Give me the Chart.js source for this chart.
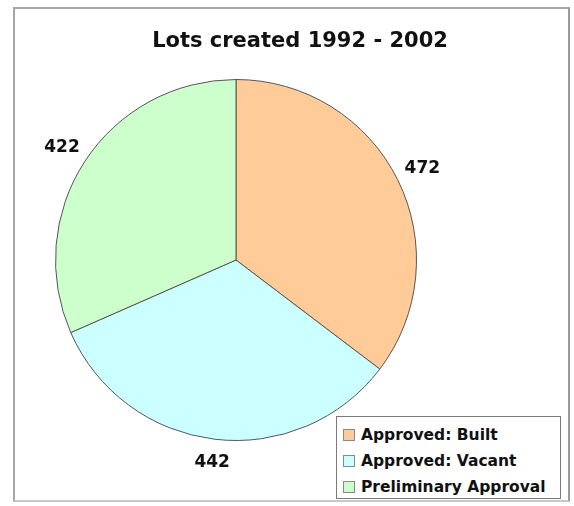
<!DOCTYPE html>
<html>
<head>
<meta charset="utf-8">
<script src="https://cdn.jsdelivr.net/npm/chart.js@4"></script>
<style>
  html, body { margin: 0; padding: 0; background: #fff; }
  #wrap { position: relative; width: 574px; height: 506px; overflow: hidden; }
  #frame {
    position: absolute; left: 13px; top: 7px; width: 553px; height: 491px;
    border: 2px solid #a6a6a6; border-right-color: #9a9a9a; border-bottom-color: #c8c8c8;
  }
  #chart { position: absolute; left: 0; top: 0; }
  #title {
    position: absolute; left: 100px; width: 400px; top: 28px; text-align: center;
    font: bold 21px "DejaVu Sans", sans-serif; color: #111;
  }
  #legend {
    position: absolute; left: 336px; top: 416px; width: 225px; height: 83px;
    box-sizing: border-box; border: 1px solid #7a7a7a; background: #fff;
    font: bold 15.5px "DejaVu Sans", sans-serif; color: #111;
    padding-top: 5px;
  }
  #legend .item { height: 26px; line-height: 26px; white-space: nowrap; }
  #legend .sw {
    display: inline-block; width: 10px; height: 10px; margin: 0 6px 0 6px;
    border: 1px solid #888; vertical-align: -1px;
  }
</style>
</head>
<body>
<div id="wrap">
  <div id="frame"></div>
  <canvas id="chart" width="574" height="506"></canvas>
  <div id="title"></div>
  <div id="legend"></div>
</div>
<script>
// ── Data ───────────────────────────────────────────────────────────────────
const chartTitle = 'Lots created 1992 - 2002';
const categories = ['Approved: Built', 'Approved: Vacant', 'Preliminary Approval'];
const lotCounts  = [472, 442, 422];
const sliceColors = ['#ffcc99', '#ccffff', '#ccffcc'];

// Value labels outside each slice, pushed out along the slice's middle angle
const outsideLabels = {
  id: 'outsideLabels',
  afterDatasetsDraw(chart) {
    const { ctx } = chart;
    const meta = chart.getDatasetMeta(0);
    ctx.save();
    ctx.font = 'bold 17px "DejaVu Sans", sans-serif';
    ctx.fillStyle = '#111';
    ctx.textAlign = 'center';
    ctx.textBaseline = 'middle';
    meta.data.forEach((arc, i) => {
      const { x, y, startAngle, endAngle, outerRadius } = arc.getProps(['x', 'y', 'startAngle', 'endAngle', 'outerRadius'], true);
      const mid = (startAngle + endAngle) / 2;
      const txt = String(lotCounts[i]);
      const w = ctx.measureText(txt).width;
      const h = 14;
      const cos = Math.cos(mid), sin = Math.sin(mid);
      const half = (w / 2) * Math.abs(cos) + (h / 2) * Math.abs(sin);
      const r = outerRadius + 18 + half * 0.5;
      ctx.fillText(txt, x + r * cos, y + r * sin + 1);
    });
    ctx.restore();
  },
};

document.getElementById('title').textContent = chartTitle;

const legendEl = document.getElementById('legend');
categories.forEach((c, i) => {
  const row = document.createElement('div');
  row.className = 'item';
  const sw = document.createElement('span');
  sw.className = 'sw';
  sw.style.background = sliceColors[i];
  row.appendChild(sw);
  row.appendChild(document.createTextNode(c));
  legendEl.appendChild(row);
});

new Chart(document.getElementById('chart'), {
  type: 'pie',
  data: {
    labels: categories,
    datasets: [{
      data: lotCounts,
      backgroundColor: sliceColors,
      borderColor: '#555',
      borderWidth: 1,
    }],
  },
  options: {
    responsive: false,
    animation: false,
    layout: { padding: { left: 55, top: 79, right: 157, bottom: 65 } },
    plugins: {
      legend: { display: false },
      tooltip: { enabled: false },
      title: { display: false },
    },
  },
  plugins: [outsideLabels],
});
</script>
</body>
</html>
